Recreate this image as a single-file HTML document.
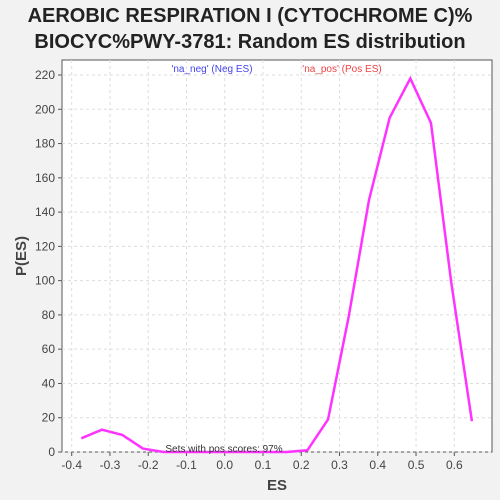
<!DOCTYPE html>
<html><head><meta charset="utf-8"><style>
body{margin:0;background:#f2f2f2;font-family:"Liberation Sans",sans-serif;overflow:hidden}
svg{display:block}
</style></head><body>
<svg width="500" height="500" xmlns="http://www.w3.org/2000/svg">
<rect width="500" height="500" fill="#f2f2f2"/>
<text x="250" y="22" text-anchor="middle" font-size="20" font-weight="bold" fill="#222">AEROBIC RESPIRATION I (CYTOCHROME C)%</text>
<text x="250" y="48" text-anchor="middle" font-size="20" font-weight="bold" fill="#222">BIOCYC%PWY-3781: Random ES distribution</text>
<rect x="62" y="60" width="430" height="392" fill="#fff" stroke="#555"/>
<g id="grid"></g><g id="axes"></g>
<polyline id="line" fill="none" stroke="#ff33ff" stroke-width="2.5"/>
<text x="212" y="72" text-anchor="middle" font-size="10" fill="#4444ee">'na_neg' (Neg ES)</text>
<text x="342" y="72" text-anchor="middle" font-size="10" fill="#ee4444">'na_pos' (Pos ES)</text>
<text x="224" y="452" text-anchor="middle" font-size="10" fill="#333">Sets with pos scores: 97%</text>
<text x="277" y="490" text-anchor="middle" font-size="15" font-weight="bold" fill="#444">ES</text>
<text x="26" y="256" text-anchor="middle" font-size="15" font-weight="bold" fill="#444" transform="rotate(-90 26 256)">P(ES)</text>
</svg>
<script>
const xs=[-0.375,-0.321,-0.268,-0.214,-0.160,-0.106,-0.053,0.001,0.055,0.109,0.162,0.216,0.270,0.324,0.377,0.431,0.485,0.539,0.592,0.646];
const ys=[8,13,10,2,0,0,0,0,0,0,0,1,19,79,147,195,218,192,99,18];
const xTicks=[-0.4,-0.3,-0.2,-0.1,0.0,0.1,0.2,0.3,0.4,0.5,0.6];
const yTicks=[0,20,40,60,80,100,120,140,160,180,200,220];
const X=v=>71.7+(v+0.4)*382.6;
const Y=v=>452-v*1.7136;
const ns="http://www.w3.org/2000/svg";
const g=document.getElementById('grid'),a=document.getElementById('axes');
function mk(p,t,at){const e=document.createElementNS(ns,t);for(const k in at)e.setAttribute(k,at[k]);p.appendChild(e);return e;}
xTicks.forEach(t=>{const x=X(t);
const l=mk(g,'line',{x1:x,x2:x,y1:60,y2:452,stroke:'#ddd','stroke-dasharray':'3,3'});


mk(a,'line',{x1:x,x2:x,y1:452,y2:456,stroke:'#555'});
const tx=mk(a,'text',{x:x,y:469,'text-anchor':'middle','font-size':12,fill:'#444'});tx.textContent=t.toFixed(1);

});
yTicks.forEach(t=>{const y=Y(t);
const l=mk(g,'line',{x1:62,x2:492,y1:y,y2:y,stroke:'#ddd','stroke-dasharray':'3,3'});


mk(a,'line',{x1:58,x2:62,y1:y,y2:y,stroke:'#555'});
const tx=mk(a,'text',{x:55,y:y+4,'text-anchor':'end','font-size':12,fill:'#444'});tx.textContent=t;

});
document.getElementById('line').setAttribute('points',xs.map((x,i)=>X(x)+','+Y(ys[i])).join(' '));
</script>
</body></html>
